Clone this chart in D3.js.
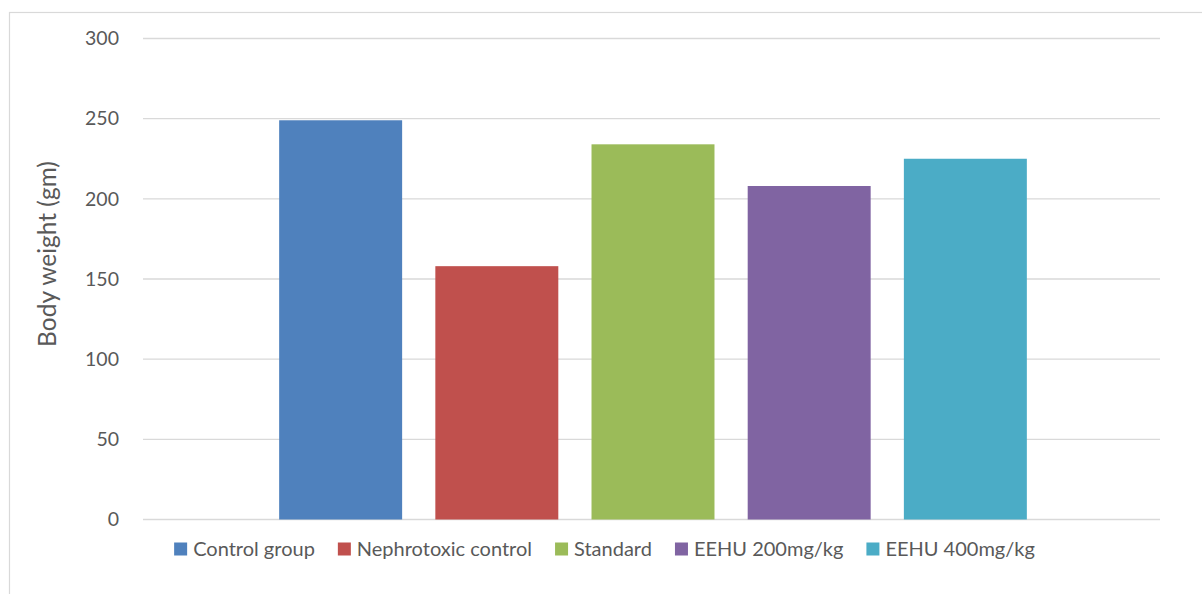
<!DOCTYPE html>
<html>
<head>
<meta charset="utf-8">
<script src="https://cdn.jsdelivr.net/npm/d3@7/dist/d3.min.js"></script>
<style>
  html, body { margin: 0; padding: 0; background: #fff; }
  svg { display: block; }
  text { font-family: Lato, "Open Sans", sans-serif; fill: #595959; }
</style>
</head>
<body>
<svg id="chart" width="1202" height="594"></svg>
<script>
// Body weight per treatment group (gm)
const groups = ["Control group", "Nephrotoxic control", "Standard", "EEHU 200mg/kg", "EEHU 400mg/kg"];
const weights = [249, 158, 234, 208, 225];
const colors = ["#4F81BD", "#C0504D", "#9BBB59", "#8064A2", "#4BACC6"];
const yTicks = [0, 50, 100, 150, 200, 250, 300];
const yTitle = "Body weight (gm)";

const plot = { left: 143, right: 1160, top: 38.5, bottom: 519.5 };

const svg = d3.select("#chart");

// Chart area frame (continues past the window on the right and bottom)
svg.append("rect")
  .attr("x", 9.5).attr("y", 12.5)
  .attr("width", 1210).attr("height", 600)
  .attr("fill", "#fff")
  .attr("stroke", "#D9D9D9").attr("stroke-width", 1.2);

const y = d3.scaleLinear().domain([0, 300]).range([plot.bottom, plot.top]);

// Clustered columns: gap width 219%, overlap -27%
const gapWidth = 2.19, overlap = 0.27;
const n = groups.length;
const pi = overlap / (1 + overlap);
const totalInSteps = (n + (n - 1) * overlap + gapWidth) / (1 + overlap);
const po = (totalInSteps - n + pi) / 2;
const x = d3.scaleBand().domain(groups)
  .range([plot.left + 1.5, plot.right + 1.5])
  .paddingInner(pi).paddingOuter(po);

// Gridlines
svg.append("g")
  .selectAll("line").data(yTicks).join("line")
  .attr("x1", plot.left).attr("x2", plot.right)
  .attr("y1", d => y(d)).attr("y2", d => y(d))
  .attr("stroke", "#D9D9D9").attr("stroke-width", 1.4);

// Y axis labels
const yAxis = d3.axisLeft(y).tickValues(yTicks).tickSize(0).tickPadding(0);
const gy = svg.append("g").attr("transform", `translate(119,0)`).call(yAxis);
gy.select(".domain").remove();
gy.selectAll("text")
  .attr("font-size", 19.5)
  .attr("fill", "#595959")
  .attr("font-family", "Lato, 'Open Sans', sans-serif");

// Bars
svg.append("g")
  .selectAll("rect").data(groups).join("rect")
  .attr("x", d => x(d))
  .attr("width", x.bandwidth())
  .attr("y", (d, i) => y(weights[i]))
  .attr("height", (d, i) => y(0) - y(weights[i]))
  .attr("fill", (d, i) => colors[i]);

// Y axis title
svg.append("text")
  .attr("transform", "translate(56,254) rotate(-90)")
  .attr("text-anchor", "middle")
  .attr("font-size", 24.5)
  .text(yTitle);

// Legend
const legend = svg.append("g");
const sq = 13, sqGap = 6, itemGap = 23, legendY = 549;
const items = legend.selectAll("g").data(groups).join("g");
items.append("rect")
  .attr("width", sq).attr("height", sq)
  .attr("y", legendY - sq / 2)
  .attr("fill", (d, i) => colors[i]);
items.append("text")
  .attr("x", sq + sqGap)
  .attr("y", legendY)
  .attr("dy", "0.35em")
  .attr("font-size", 20)
  .text(d => d);
let widths = [];
items.each(function () {
  widths.push(d3.select(this).select("text").node().getComputedTextLength() + sq + sqGap);
});
const total = d3.sum(widths) + itemGap * (n - 1);
let cx = 604.5 - total / 2;
items.attr("transform", (d, i) => {
  const t = `translate(${cx},0)`;
  cx += widths[i] + itemGap;
  return t;
});
</script>
</body>
</html>
